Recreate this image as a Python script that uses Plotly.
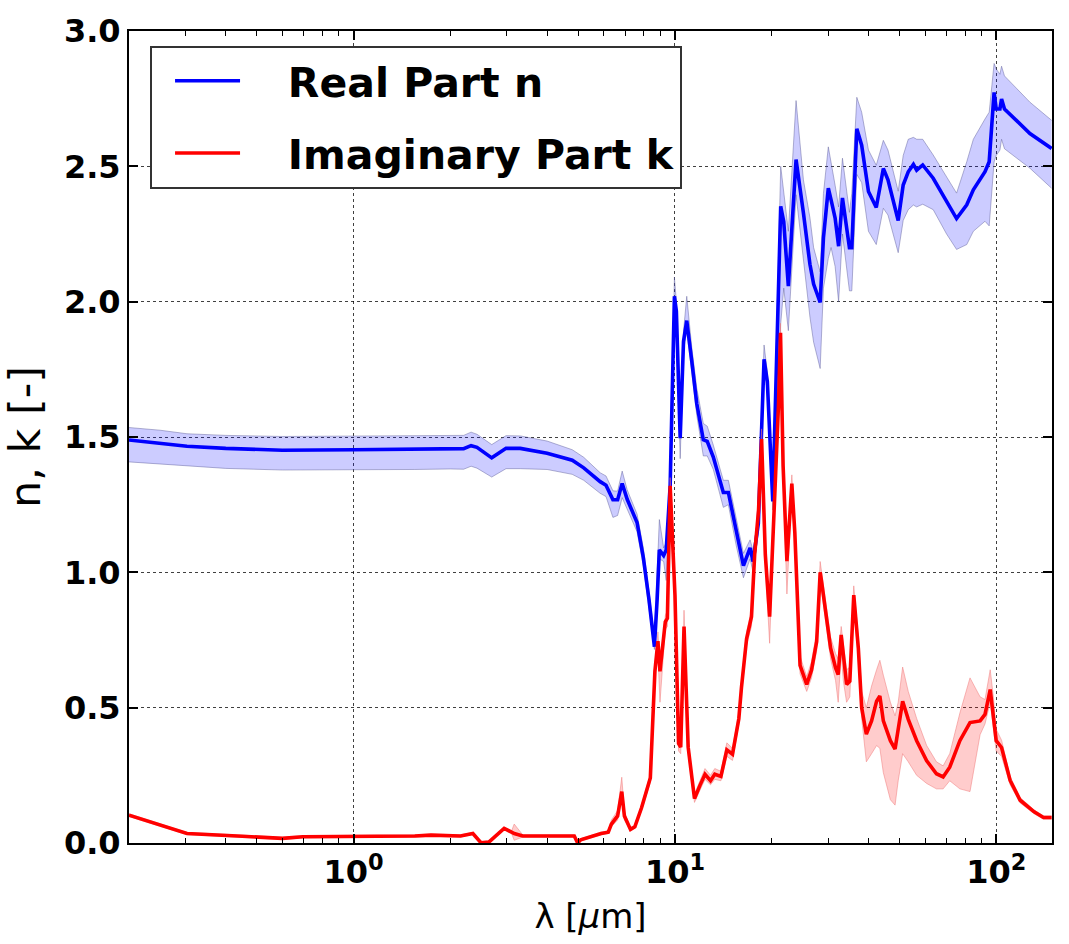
import math
import plotly.graph_objects as go

# ---- Real part n : wavelength [um], n, lower bound, upper bound ----
wl_n = [0.200, 0.25, 0.303, 0.40, 0.60, 1.00, 1.55, 2.00, 2.20, 2.32, 2.42, 2.69, 2.98, 3.30,
        4.00, 4.79, 5.20, 5.85, 6.10, 6.41, 6.63, 6.85, 7.10, 7.62, 7.97, 8.30, 8.63, 8.80,
        8.94, 9.22, 9.39, 9.66, 9.96, 10.10, 10.38, 10.63, 10.88, 11.28, 11.69, 12.25, 12.60,
        13.16, 14.14, 14.66, 15.50, 16.33, 17.13, 17.50, 18.17, 18.93, 19.38, 20.15, 21.33,
        21.80, 22.53, 23.81, 25.10, 26.30, 27.00, 28.30, 28.97, 30.00, 30.60, 31.50, 32.30,
        33.20, 34.90, 35.50, 36.80, 38.10, 40.00, 42.30, 44.50, 46.00, 49.50, 51.30, 53.20,
        55.20, 56.50, 59.00, 63.60, 70.00, 75.20, 80.90, 84.80, 92.20, 95.00, 98.40, 99.90,
        102.6, 103.8, 106.0, 127.2, 148.6]
n_val = [1.489, 1.478, 1.466, 1.458, 1.451, 1.453, 1.456, 1.458, 1.457, 1.468, 1.462, 1.423,
         1.458, 1.458, 1.440, 1.414, 1.386, 1.335, 1.322, 1.268, 1.268, 1.328, 1.270, 1.184,
         1.055, 0.900, 0.725, 0.900, 1.083, 1.062, 1.083, 1.320, 2.020, 1.965, 1.496, 1.853,
         1.930, 1.780, 1.623, 1.490, 1.484, 1.426, 1.295, 1.295, 1.150, 1.025, 1.090, 1.040,
         1.180, 1.787, 1.705, 1.262, 2.352, 2.295, 2.057, 2.525, 2.328, 2.138, 2.065, 1.997,
         2.236, 2.419, 2.376, 2.309, 2.205, 2.383, 2.199, 2.199, 2.639, 2.578, 2.407, 2.348,
         2.492, 2.450, 2.300, 2.431, 2.480, 2.507, 2.486, 2.505, 2.456, 2.370, 2.307, 2.358,
         2.413, 2.480, 2.517, 2.773, 2.712, 2.712, 2.749, 2.712, 2.621, 2.566]
n_low = [1.408, 1.400, 1.392, 1.384, 1.378, 1.378, 1.380, 1.382, 1.381, 1.392, 1.385, 1.352,
         1.383, 1.383, 1.380, 1.362, 1.340, 1.292, 1.280, 1.203, 1.210, 1.276, 1.235, 1.150,
         1.025, 0.870, 0.715, 0.880, 1.050, 1.040, 0.970, 1.290, 1.980, 1.930, 1.420, 1.820,
         1.890, 1.740, 1.580, 1.430, 1.430, 1.380, 1.240, 1.250, 1.100, 0.980, 1.050, 1.000,
         1.150, 1.750, 1.670, 1.230, 1.918, 2.050, 1.893, 2.395, 2.150, 1.943, 1.850, 1.753,
         2.050, 2.160, 2.200, 2.130, 2.000, 2.250, 2.040, 2.040, 2.470, 2.440, 2.260, 2.211,
         2.345, 2.320, 2.181, 2.300, 2.340, 2.357, 2.350, 2.360, 2.340, 2.250, 2.193, 2.211,
         2.260, 2.297, 2.280, 2.516, 2.540, 2.560, 2.600, 2.565, 2.493, 2.419]
n_high = [1.535, 1.525, 1.512, 1.506, 1.502, 1.503, 1.505, 1.506, 1.506, 1.518, 1.510, 1.472,
          1.505, 1.504, 1.485, 1.453, 1.425, 1.368, 1.356, 1.301, 1.300, 1.374, 1.305, 1.215,
          1.090, 0.930, 0.760, 1.000, 1.195, 1.090, 1.110, 1.350, 2.090, 2.000, 1.530, 1.890,
          2.020, 1.830, 1.680, 1.550, 1.540, 1.470, 1.340, 1.340, 1.200, 1.070, 1.120, 1.080,
          1.210, 1.840, 1.740, 1.300, 2.500, 2.400, 2.260, 2.743, 2.450, 2.310, 2.200, 2.110,
          2.400, 2.572, 2.520, 2.430, 2.350, 2.530, 2.330, 2.400, 2.755, 2.700, 2.560, 2.504,
          2.596, 2.560, 2.408, 2.540, 2.600, 2.607, 2.600, 2.600, 2.542, 2.460, 2.401, 2.517,
          2.600, 2.675, 2.700, 2.880, 2.860, 2.840, 2.870, 2.834, 2.737, 2.670]

# ---- Imaginary part k : wavelength [um], k, lower bound, upper bound ----
wl_k = [0.200, 0.303, 0.45, 0.60, 0.695, 1.00, 1.55, 1.74, 2.15, 2.35, 2.49, 2.64, 2.94, 3.10,
        3.16, 3.36, 4.86, 4.98, 5.09, 5.89, 6.20, 6.34, 6.63, 6.83, 6.96, 7.27, 7.50, 7.87,
        8.38, 8.66, 8.85, 8.98, 9.33, 9.47, 9.66, 10.00, 10.26, 10.42, 10.67, 10.99, 11.28,
        11.50, 11.96, 12.40, 12.90, 13.30, 13.90, 14.50, 15.10, 15.80, 16.10, 16.70, 17.30,
        17.70, 18.20, 18.60, 19.10, 19.70, 20.40, 21.00, 21.30, 21.70, 22.30, 23.10, 23.60,
        24.50, 25.70, 26.60, 27.60, 28.30, 28.60, 30.50, 31.60, 32.20, 32.90, 33.40, 34.20,
        35.00, 36.00, 37.20, 38.10, 39.40, 40.90, 42.40, 43.40, 44.50, 46.80, 48.40, 49.50,
        51.10, 53.20, 56.50, 60.70, 65.10, 68.30, 71.60, 77.00, 82.80, 89.00, 92.20, 95.70,
        97.90, 99.90, 103.8, 110.4, 118.6, 131.1, 140.2, 148.6]
k_val = [0.103, 0.035, 0.025, 0.017, 0.023, 0.024, 0.026, 0.029, 0.026, 0.035, 0.001, 0.004,
         0.054, 0.040, 0.035, 0.026, 0.026, 0.000, 0.012, 0.035, 0.040, 0.070, 0.100, 0.190,
         0.100, 0.050, 0.060, 0.130, 0.240, 0.634, 0.746, 0.634, 0.817, 0.830, 1.320, 0.915,
         0.368, 0.354, 0.800, 0.354, 0.242, 0.164, 0.213, 0.254, 0.230, 0.254, 0.246, 0.344,
         0.328, 0.459, 0.574, 0.754, 0.836, 1.066, 1.230, 1.492, 1.066, 0.836, 1.262, 1.623,
         1.885, 1.393, 1.041, 1.328, 1.148, 0.656, 0.586, 0.639, 0.744, 1.000, 0.964, 0.720,
         0.647, 0.622, 0.769, 0.684, 0.586, 0.598, 0.916, 0.720, 0.500, 0.402, 0.451, 0.524,
         0.543, 0.451, 0.378, 0.347, 0.427, 0.524, 0.457, 0.378, 0.304, 0.256, 0.244, 0.280,
         0.378, 0.445, 0.451, 0.475, 0.567, 0.475, 0.378, 0.353, 0.231, 0.158, 0.115, 0.094,
         0.094]
k_low = [0.098, 0.031, 0.021, 0.013, 0.019, 0.020, 0.022, 0.025, 0.022, 0.031, 0.000, 0.000,
         0.050, 0.036, 0.010, 0.022, 0.022, 0.000, 0.008, 0.030, 0.035, 0.060, 0.085, 0.160,
         0.085, 0.045, 0.055, 0.120, 0.225, 0.610, 0.700, 0.520, 0.790, 0.800, 1.290, 0.880,
         0.340, 0.330, 0.770, 0.330, 0.225, 0.150, 0.195, 0.235, 0.215, 0.235, 0.230, 0.320,
         0.305, 0.440, 0.550, 0.730, 0.800, 1.040, 1.200, 1.460, 1.030, 0.738, 1.230, 1.590,
         1.850, 1.350, 0.920, 1.300, 1.110, 0.625, 0.560, 0.610, 0.710, 0.960, 0.930, 0.680,
         0.600, 0.520, 0.700, 0.600, 0.520, 0.540, 0.880, 0.680, 0.460, 0.300, 0.330, 0.360,
         0.350, 0.260, 0.160, 0.140, 0.230, 0.330, 0.300, 0.250, 0.220, 0.200, 0.200, 0.230,
         0.200, 0.190, 0.400, 0.440, 0.520, 0.430, 0.340, 0.320, 0.215, 0.148, 0.108, 0.088,
         0.088]
k_high = [0.108, 0.039, 0.029, 0.021, 0.027, 0.028, 0.030, 0.033, 0.030, 0.039, 0.005, 0.008,
          0.058, 0.044, 0.070, 0.030, 0.030, 0.004, 0.016, 0.040, 0.045, 0.085, 0.120, 0.243,
          0.115, 0.058, 0.066, 0.140, 0.255, 0.660, 0.780, 0.660, 0.840, 0.860, 1.350, 0.950,
          0.400, 0.380, 0.860, 0.380, 0.260, 0.180, 0.230, 0.275, 0.250, 0.275, 0.265, 0.370,
          0.350, 0.480, 0.600, 0.780, 0.860, 1.090, 1.260, 1.530, 1.100, 0.870, 1.300, 1.660,
          1.920, 1.430, 1.080, 1.360, 1.180, 0.690, 0.615, 0.670, 0.780, 1.040, 1.000, 0.760,
          0.700, 0.680, 0.800, 0.730, 0.640, 0.650, 0.950, 0.760, 0.560, 0.500, 0.580, 0.640,
          0.675, 0.620, 0.520, 0.470, 0.520, 0.650, 0.560, 0.460, 0.360, 0.300, 0.285, 0.330,
          0.480, 0.610, 0.540, 0.530, 0.640, 0.540, 0.420, 0.380, 0.245, 0.168, 0.122, 0.100,
          0.100]

x_major = [1, 10, 100]
x_major_text = ["<b>10<sup>0</sup></b>", "<b>10<sup>1</sup></b>", "<b>10<sup>2</sup></b>"]
x_minor = [m * 10 ** e for e in (-1, 0, 1, 2) for m in range(2, 10) if 0.2 <= m * 10 ** e <= 150]
y_ticks = [0.0, 0.5, 1.0, 1.5, 2.0, 2.5, 3.0]

FONT = "DejaVu Sans"
PAD = "\u00a0\u00a0\u00a0"
fig = go.Figure()


def add_band(x, lo, hi, fill, edge, group):
    fig.add_trace(go.Scatter(x=x, y=lo, mode="lines", line=dict(color=edge, width=1),
                             showlegend=False, hoverinfo="skip", legendgroup=group))
    fig.add_trace(go.Scatter(x=x, y=hi, mode="lines", line=dict(color=edge, width=1),
                             fill="tonexty", fillcolor=fill, showlegend=False, hoverinfo="skip",
                             legendgroup=group))


add_band(wl_n, n_low, n_high, "rgba(0,0,255,0.2)", "rgba(90,90,150,0.45)", "n")
fig.add_trace(go.Scatter(x=wl_n, y=n_val, mode="lines", name=PAD + "Real Part n",
                         legendgroup="n", line=dict(color="#0000ff", width=3.6)))
add_band(wl_k, k_low, k_high, "rgba(255,0,0,0.2)", "rgba(240,120,120,0.5)", "k")
fig.add_trace(go.Scatter(x=wl_k, y=k_val, mode="lines", name=PAD + "Imaginary Part k",
                         legendgroup="k", line=dict(color="#ff0000", width=3.6)))
# invisible carrier for the minor-tick axis
fig.add_trace(go.Scatter(x=[1], y=[None], xaxis="x2", mode="markers", showlegend=False,
                         hoverinfo="skip", marker=dict(opacity=0)))

xr = [math.log10(0.2), math.log10(149)]
fig.update_layout(
    width=1069, height=944,
    margin=dict(l=129, r=17, t=25, b=101),
    paper_bgcolor="white", plot_bgcolor="white",
    font=dict(family=FONT, color="black"),
    xaxis=dict(type="log", range=xr, tickvals=x_major, ticktext=x_major_text,
               tickfont=dict(size=32, family=FONT), ticks="inside", ticklen=9, tickwidth=1.5,
               tickcolor="black", showline=True, linecolor="black", linewidth=2, mirror="ticks",
               showgrid=True, gridcolor="rgba(0,0,0,0.75)", gridwidth=1, griddash="dot",
               zeroline=False,
               title=dict(text="λ [<i>μ</i>m]", font=dict(size=34, family=FONT), standoff=14)),
    xaxis2=dict(type="log", range=xr, overlaying="x", side="bottom", tickvals=x_minor,
                showticklabels=False, ticks="inside", ticklen=5, tickwidth=1, tickcolor="black",
                showgrid=False, showline=False, mirror="ticks", zeroline=False),
    yaxis=dict(range=[0, 3], tickvals=y_ticks, tickformat=".1f",
               tickfont=dict(size=32, family=FONT, weight="bold"), ticks="inside", ticklen=9,
               tickwidth=1.5, tickcolor="black", showline=True, linecolor="black", linewidth=2,
               mirror="ticks", showgrid=True, gridcolor="rgba(0,0,0,0.75)", gridwidth=1,
               griddash="dot", zeroline=False,
               title=dict(text="n, k [-]", font=dict(size=43, family=FONT), standoff=10)),
    legend=dict(x=0.0228, y=0.982, xanchor="left", yanchor="top", traceorder="grouped",
                tracegroupgap=16, bgcolor="white", bordercolor="#333333", borderwidth=2,
                font=dict(size=41, family=FONT, weight="bold"), itemwidth=65,
                indentation=18),
    showlegend=True,
)

fig.write_html("out.html")
